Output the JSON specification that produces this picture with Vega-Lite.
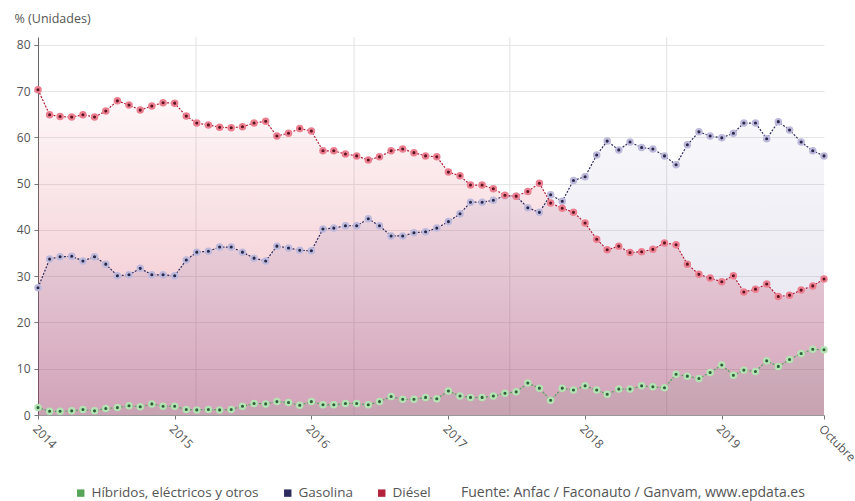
{
  "$schema": "https://vega.github.io/schema/vega-lite/v6.json",
  "width": 786,
  "height": 378,
  "autosize": "none",
  "padding": {"left": 38, "top": 37, "right": 31, "bottom": 86},
  "background": "white",
  "config": {
    "font": "Open Sans",
    "view": {"stroke": null},
    "axisY": {
      "titleAngle": 0, "titleAlign": "left", "titleBaseline": "middle",
      "titleX": -24, "titleY": -19, "titleFontWeight": "normal", "titleFontSize": 12.5, "titleColor": "#555",
      "labelFontSize": 12, "labelColor": "#555", "labelPadding": 4,
      "tickSize": 4, "tickColor": "#777", "domainColor": "#666",
      "grid": true, "gridColor": "#e6e6e6"
    }
  },
  "data": {"values": [
    {"f":"2014-01-01","d":70.3,"g":27.5,"h":1.6},
    {"f":"2014-02-01","d":64.9,"g":33.7,"h":0.8},
    {"f":"2014-03-01","d":64.5,"g":34.2,"h":0.8},
    {"f":"2014-04-01","d":64.4,"g":34.3,"h":0.9},
    {"f":"2014-05-01","d":64.9,"g":33.3,"h":1.2},
    {"f":"2014-06-01","d":64.4,"g":34.2,"h":0.9},
    {"f":"2014-07-01","d":65.7,"g":32.6,"h":1.4},
    {"f":"2014-08-01","d":67.9,"g":30.1,"h":1.6},
    {"f":"2014-09-01","d":67.0,"g":30.3,"h":2.0},
    {"f":"2014-10-01","d":65.9,"g":31.7,"h":1.8},
    {"f":"2014-11-01","d":66.8,"g":30.3,"h":2.4},
    {"f":"2014-12-01","d":67.5,"g":30.3,"h":1.9},
    {"f":"2015-01-01","d":67.4,"g":30.1,"h":1.9},
    {"f":"2015-02-01","d":64.6,"g":33.5,"h":1.2},
    {"f":"2015-03-01","d":63.1,"g":35.2,"h":1.1},
    {"f":"2015-04-01","d":62.7,"g":35.4,"h":1.2},
    {"f":"2015-05-01","d":62.2,"g":36.3,"h":1.1},
    {"f":"2015-06-01","d":62.1,"g":36.3,"h":1.2},
    {"f":"2015-07-01","d":62.3,"g":35.2,"h":1.9},
    {"f":"2015-08-01","d":63.1,"g":33.9,"h":2.5},
    {"f":"2015-09-01","d":63.5,"g":33.3,"h":2.4},
    {"f":"2015-10-01","d":60.3,"g":36.5,"h":2.9},
    {"f":"2015-11-01","d":60.9,"g":36.1,"h":2.7},
    {"f":"2015-12-01","d":61.9,"g":35.6,"h":2.1},
    {"f":"2016-01-01","d":61.4,"g":35.5,"h":2.9},
    {"f":"2016-02-01","d":57.1,"g":40.2,"h":2.2},
    {"f":"2016-03-01","d":57.1,"g":40.4,"h":2.2},
    {"f":"2016-04-01","d":56.4,"g":40.9,"h":2.5},
    {"f":"2016-05-01","d":56.0,"g":40.9,"h":2.5},
    {"f":"2016-06-01","d":55.1,"g":42.4,"h":2.2},
    {"f":"2016-07-01","d":55.8,"g":40.9,"h":2.9},
    {"f":"2016-08-01","d":57.1,"g":38.7,"h":4.0},
    {"f":"2016-09-01","d":57.5,"g":38.7,"h":3.4},
    {"f":"2016-10-01","d":56.7,"g":39.4,"h":3.4},
    {"f":"2016-11-01","d":56.0,"g":39.6,"h":3.8},
    {"f":"2016-12-01","d":55.8,"g":40.4,"h":3.5},
    {"f":"2017-01-01","d":52.5,"g":41.8,"h":5.2},
    {"f":"2017-02-01","d":51.7,"g":43.5,"h":4.1},
    {"f":"2017-03-01","d":49.7,"g":46.0,"h":3.8},
    {"f":"2017-04-01","d":49.7,"g":46.0,"h":3.8},
    {"f":"2017-05-01","d":48.9,"g":46.4,"h":4.1},
    {"f":"2017-06-01","d":47.5,"g":47.4,"h":4.7},
    {"f":"2017-07-01","d":47.3,"g":47.3,"h":5.0},
    {"f":"2017-08-01","d":48.3,"g":44.8,"h":6.9},
    {"f":"2017-09-01","d":50.1,"g":43.8,"h":5.8},
    {"f":"2017-10-01","d":45.8,"g":47.6,"h":3.2},
    {"f":"2017-11-01","d":44.7,"g":46.2,"h":5.8},
    {"f":"2017-12-01","d":43.8,"g":50.7,"h":5.4},
    {"f":"2018-01-01","d":41.5,"g":51.5,"h":6.3},
    {"f":"2018-02-01","d":38.0,"g":56.2,"h":5.4},
    {"f":"2018-03-01","d":35.7,"g":59.2,"h":4.5},
    {"f":"2018-04-01","d":36.5,"g":57.3,"h":5.6},
    {"f":"2018-05-01","d":35.1,"g":59.0,"h":5.6},
    {"f":"2018-06-01","d":35.3,"g":57.8,"h":6.3},
    {"f":"2018-07-01","d":35.8,"g":57.5,"h":6.1},
    {"f":"2018-08-01","d":37.2,"g":56.0,"h":5.9},
    {"f":"2018-09-01","d":36.8,"g":54.1,"h":8.8},
    {"f":"2018-10-01","d":32.6,"g":58.4,"h":8.4},
    {"f":"2018-11-01","d":30.4,"g":61.2,"h":7.9},
    {"f":"2018-12-01","d":29.6,"g":60.3,"h":9.2},
    {"f":"2019-01-01","d":28.8,"g":59.9,"h":10.8},
    {"f":"2019-02-01","d":30.1,"g":60.9,"h":8.6},
    {"f":"2019-03-01","d":26.6,"g":63.1,"h":9.7},
    {"f":"2019-04-01","d":27.2,"g":63.1,"h":9.4},
    {"f":"2019-05-01","d":28.3,"g":59.7,"h":11.7},
    {"f":"2019-06-01","d":25.6,"g":63.4,"h":10.5},
    {"f":"2019-07-01","d":25.9,"g":61.6,"h":12.0},
    {"f":"2019-08-01","d":27.0,"g":59.0,"h":13.3},
    {"f":"2019-09-01","d":27.9,"g":57.1,"h":14.2},
    {"f":"2019-10-01","d":29.4,"g":56.0,"h":14.1}
  ]},
  "encoding": {
    "x": {
      "field": "f", "type": "temporal",
      "scale": {"type": "utc", "nice": false, "domain": [{"year": 2014, "month": 1, "date": 1, "utc": true}, {"year": 2019, "month": 10, "date": 1, "utc": true}]},
      "axis": {
        "orient": "bottom", "title": null, "grid": false,
        "values": [
          {"year": 2014, "month": 1, "date": 1, "utc": true},
          {"year": 2015, "month": 1, "date": 1, "utc": true},
          {"year": 2016, "month": 1, "date": 1, "utc": true},
          {"year": 2017, "month": 1, "date": 1, "utc": true},
          {"year": 2018, "month": 1, "date": 1, "utc": true},
          {"year": 2019, "month": 1, "date": 1, "utc": true},
          {"year": 2019, "month": 10, "date": 1, "utc": true}
        ],
        "labelExpr": "utcmonth(datum.value) == 9 ? 'Octubre' : utcFormat(datum.value, '%Y')",
        "labelAngle": 45, "labelAlign": "left", "labelBaseline": "top",
        "labelFontSize": 12, "labelColor": "#555", "labelOverlap": false, "labelBound": false,
        "labelPadding": 4, "tickSize": 4, "tickColor": "#777", "domainColor": "#999"
      }
    }
  },
  "layer": [
    {
      "data": {"values": [{"f":"2015-02-27"},{"f":"2016-04-24"},{"f":"2017-06-14"},{"f":"2018-08-07"}]},
      "mark": {"type": "rule", "color": "#e2e2e2", "strokeWidth": 1},
      "encoding": {}
    },
    {
      "mark": {"type": "area", "color": {"gradient": "linear", "x1": 0, "y1": 0, "x2": 0, "y2": 1,
        "stops": [{"offset": 0, "color": "rgba(220,60,80,0.03)"}, {"offset": 1, "color": "rgba(200,50,85,0.35)"}]}},
      "encoding": {
        "y": {"field": "d", "type": "quantitative", "scale": {"domain": [0, 81.7], "nice": false},
          "axis": {"title": "% (Unidades)", "values": [0, 10, 20, 30, 40, 50, 60, 70, 80]}}
      }
    },
    {
      "mark": {"type": "area", "color": {"gradient": "linear", "x1": 0, "y1": 0, "x2": 0, "y2": 1,
        "stops": [{"offset": 0, "color": "rgba(80,70,150,0.04)"}, {"offset": 1, "color": "rgba(80,60,130,0.17)"}]}},
      "encoding": {
        "y": {"field": "g", "type": "quantitative", "axis": {"title": "% (Unidades)", "values": [0, 10, 20, 30, 40, 50, 60, 70, 80]}}
      }
    },
    {
      "mark": {"type": "area", "color": "rgba(90,150,100,0.08)"},
      "encoding": {
        "y": {"field": "h", "type": "quantitative", "axis": {"title": "% (Unidades)", "values": [0, 10, 20, 30, 40, 50, 60, 70, 80]}}
      }
    },
    {
      "transform": [{"fold": ["h", "g", "d"], "as": ["serie", "valor"]}],
      "mark": {"type": "line", "strokeWidth": 1.2, "strokeDash": [2, 1.5]},
      "encoding": {
        "y": {"field": "valor", "type": "quantitative", "axis": {"title": "% (Unidades)", "values": [0, 10, 20, 30, 40, 50, 60, 70, 80]}},
        "color": {
          "field": "serie", "type": "nominal",
          "scale": {"domain": ["h", "g", "d"], "range": ["#56a35a", "#2d2b5e", "#b3203b"]},
          "legend": {
            "orient": "none", "legendX": 36, "legendY": 449, "direction": "horizontal",
            "symbolType": "square", "symbolSize": 55, "symbolStrokeWidth": 0,
            "labelFontSize": 13.5, "labelColor": "#555", "columnPadding": 22, "labelOffset": 4,
            "labelLimit": 300,
            "labelExpr": "datum.label == 'h' ? 'Híbridos, eléctricos y otros' : datum.label == 'g' ? 'Gasolina' : 'Diésel'",
            "title": "Fuente: Anfac / Faconauto / Ganvam, www.epdata.es",
            "titleOrient": "right", "titleFontWeight": "normal", "titleFontSize": 14, "titleLimit": 600,
            "titleColor": "#555", "titlePadding": 30, "titleBaseline": "middle",
            "encode": {"symbols": {"update": {
              "fill": {"signal": "datum.value == 'h' ? '#56a35a' : datum.value == 'g' ? '#2d2b5e' : '#b3203b'"},
              "stroke": {"value": "transparent"}}}}
          }
        }
      }
    },
    {
      "mark": {"type": "point", "filled": true, "size": 28, "strokeWidth": 2.2, "opacity": 1, "fill": "#2f5f3c", "stroke": "#b4e3b4"},
      "encoding": {
        "y": {"field": "h", "type": "quantitative", "axis": {"title": "% (Unidades)", "values": [0, 10, 20, 30, 40, 50, 60, 70, 80]}}
      }
    },
    {
      "mark": {"type": "point", "filled": true, "size": 28, "strokeWidth": 2.2, "opacity": 1, "fill": "#2a2747", "stroke": "#bdb9dc"},
      "encoding": {
        "y": {"field": "g", "type": "quantitative", "axis": {"title": "% (Unidades)", "values": [0, 10, 20, 30, 40, 50, 60, 70, 80]}}
      }
    },
    {
      "mark": {"type": "point", "filled": true, "size": 28, "strokeWidth": 2.2, "opacity": 1, "fill": "#5e1424", "stroke": "#ec8090"},
      "encoding": {
        "y": {"field": "d", "type": "quantitative", "axis": {"title": "% (Unidades)", "values": [0, 10, 20, 30, 40, 50, 60, 70, 80]}}
      }
    }
  ]
}
